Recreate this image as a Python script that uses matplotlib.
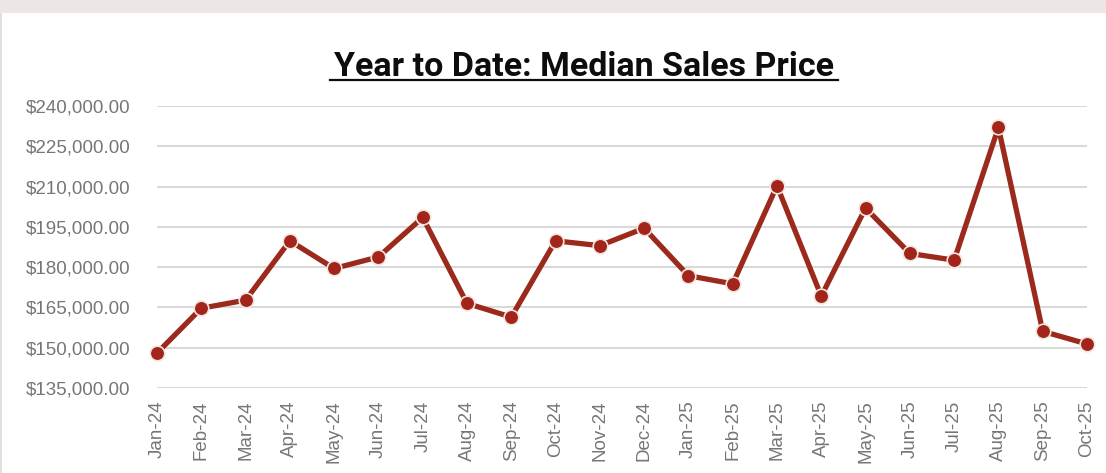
import matplotlib.pyplot as plt
from matplotlib.patches import Rectangle
from matplotlib.lines import Line2D
from matplotlib.ticker import FuncFormatter

months = ['Jan-24', 'Feb-24', 'Mar-24', 'Apr-24', 'May-24', 'Jun-24', 'Jul-24', 'Aug-24',
          'Sep-24', 'Oct-24', 'Nov-24', 'Dec-24', 'Jan-25', 'Feb-25', 'Mar-25', 'Apr-25',
          'May-25', 'Jun-25', 'Jul-25', 'Aug-25', 'Sep-25', 'Oct-25']
median_price = [148000, 164700, 167700, 189800, 179500, 183800, 198500, 166500,
                161400, 189800, 188000, 194500, 176800, 173800, 210300, 169200,
                202000, 185100, 182600, 232000, 156100, 151400]
y_ticks = [135000, 150000, 165000, 180000, 195000, 210000, 225000, 240000]

plt.rcParams['font.family'] = ['Liberation Sans', 'DejaVu Sans']

fig = plt.figure(figsize=(11.06, 4.73), dpi=100)
fig.patch.set_facecolor('white')

# grey strip on top and thin border on the left, like the spreadsheet frame
fig.patches.append(Rectangle((0, 1 - 13 / 473), 1, 13 / 473, transform=fig.transFigure,
                             facecolor='#ece7e4', edgecolor='none'))
fig.patches.append(Rectangle((0, 0), 2 / 1106, 1 - 13 / 473, transform=fig.transFigure,
                             facecolor='#e3dfdd', edgecolor='none'))

ax = fig.add_axes([157 / 1106, 1 - 388 / 473, (1087 - 157) / 1106, (388 - 106) / 473])
x = list(range(len(months)))
ax.plot(x, median_price, color='#9b2a1c', linewidth=3.8, marker='o', markersize=10.5,
        markerfacecolor='#a3241a', markeredgecolor='#f1e6df', markeredgewidth=1.2,
        solid_capstyle='round', zorder=3, clip_on=False)

ax.set_xlim(0, len(months) - 1)
ax.set_ylim(135000, 240000)
ax.set_yticks(y_ticks)
ax.yaxis.set_major_formatter(FuncFormatter(lambda v, p: f'${v:,.2f}'))
ax.set_xticks(x)
ax.set_xticklabels(months, rotation=90)
ax.grid(axis='y', color='#d9d9d9', linewidth=1.5)
ax.set_axisbelow(True)
for s in ax.spines.values():
    s.set_visible(False)
ax.tick_params(axis='both', length=0, labelsize=13.5, colors='#767676')
ax.tick_params(axis='y', pad=19)
ax.tick_params(axis='x', pad=9)

title = fig.text(584 / 1106, 1 - 67 / 473, 'Year to Date: Median Sales Price', ha='center',
                 va='center', fontsize=24.5, fontweight='bold', family=['Roboto', 'DejaVu Sans'],
                 color='#0d0d0d')
fig.lines.append(Line2D([330 / 1106, 838 / 1106], [1 - 80 / 473, 1 - 80 / 473],
                        transform=fig.transFigure, color='#0d0d0d', linewidth=1.6))

fig.savefig('out.png', dpi=100)
